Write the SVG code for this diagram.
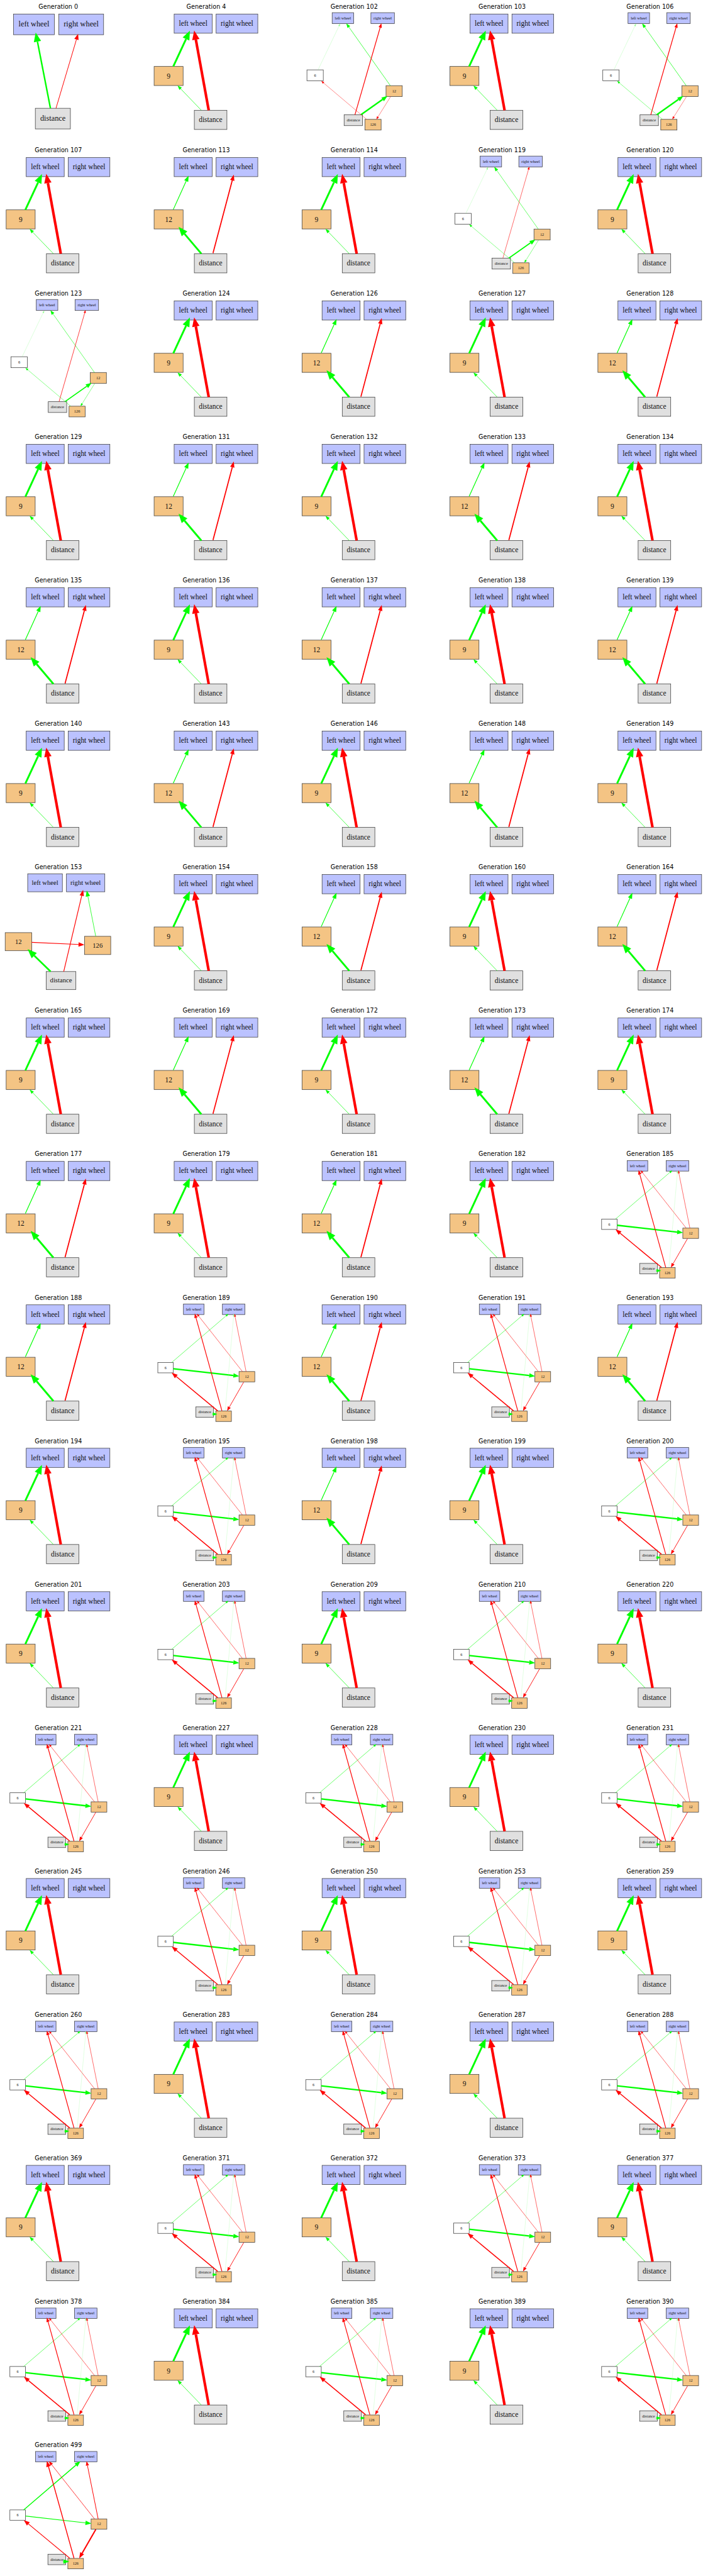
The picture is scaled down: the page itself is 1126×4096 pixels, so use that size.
<svg xmlns="http://www.w3.org/2000/svg" xmlns:xlink="http://www.w3.org/1999/xlink" width="1126" height="4096" viewBox="0 0 1126 4096">
<style>
text{font-family:"Liberation Serif","Times New Roman",serif;text-anchor:middle;fill:#111}
.t{font-family:"DejaVu Sans",sans-serif;font-size:16.4px;fill:#000}
.A g text{font-size:21px}.B g text{font-size:19.5px}.D g text{font-size:11px}.F g text{font-size:18.2px}.G g text{font-size:10.5px}
rect{stroke:#3c3c3c;stroke-width:1.3}
.bg{fill:#fff;stroke:none}
.w{fill:#bbc2ff}.o{fill:#f4c484}.g{fill:#e0e0e0}.h{fill:#fff}
.gr{stroke:#0f0;fill:none}.rd{stroke:#f00;fill:none}.lg{stroke:#9f9;fill:none}
</style>
<defs>
<marker id="g1" markerUnits="userSpaceOnUse" orient="auto" overflow="visible"><path d="M0,-3L8,0L0,3z" fill="#0f0"/></marker>
<marker id="g2" markerUnits="userSpaceOnUse" orient="auto" overflow="visible"><path d="M0,-4.5L12,0L0,4.5z" fill="#0f0"/></marker>
<marker id="g3" markerUnits="userSpaceOnUse" orient="auto" overflow="visible"><path d="M0,-6L16,0L0,6z" fill="#0f0"/></marker>
<marker id="g4" markerUnits="userSpaceOnUse" orient="auto" overflow="visible"><path d="M0,-10L25,0L0,10z" fill="#0f0"/></marker>
<marker id="r1" markerUnits="userSpaceOnUse" orient="auto" overflow="visible"><path d="M0,-3L8,0L0,3z" fill="#f00"/></marker>
<marker id="r2" markerUnits="userSpaceOnUse" orient="auto" overflow="visible"><path d="M0,-4.5L12,0L0,4.5z" fill="#f00"/></marker>
<marker id="r3" markerUnits="userSpaceOnUse" orient="auto" overflow="visible"><path d="M0,-6L16,0L0,6z" fill="#f00"/></marker>
<marker id="r4" markerUnits="userSpaceOnUse" orient="auto" overflow="visible"><path d="M0,-10L25,0L0,10z" fill="#f00"/></marker>
<marker id="m0" markerUnits="userSpaceOnUse" orient="auto" overflow="visible"><path d="M0,-2.5L7,0L0,2.5z" fill="#9f9"/></marker>
<rect id="Aw1" class="w" x="-121.3" y="20" width="110.6" height="56"/>
<rect id="Aw2" class="w" x="1.3" y="20" width="121.4" height="56"/>
<rect id="Ad" class="g" x="-62.3" y="275.3" width="95" height="56"/>
<g id="Ae"><path class="gr" stroke-width="4" d="M-21.3,275.3L-56.5,94.8" marker-end="url(#g4)"/><path class="rd" stroke-width="1.7" d="M-6.3,275.3L49.1,89" marker-end="url(#r3)"/></g>
<rect id="Bw1" class="w" x="-87" y="20" width="103" height="52"/>
<rect id="Bw2" class="w" x="26.7" y="20" width="113" height="52"/>
<rect id="Bo" class="o" x="-141.3" y="162" width="78.6" height="51.7"/>
<rect id="Bd" class="g" x="-32.3" y="280.7" width="88.3" height="52"/>
<g id="Be"><path class="gr" stroke-width="5" d="M-89.3,162L-54.8,87.7" marker-end="url(#g4)"/><path class="gr" stroke-width="1.2" d="M-13.3,280.7L-69.4,222.4" marker-end="url(#g2)"/><path class="rd" stroke-width="7" d="M6.7,280.7L-28.2,89.3" marker-end="url(#r4)"/></g>
<g id="Ce"><path class="gr" stroke-width="2" d="M-89.3,161L-54.3,83.9" marker-end="url(#g3)"/><path class="gr" stroke-width="5" d="M-13.3,280.7L-58.8,227.1" marker-end="url(#g4)"/><path class="rd" stroke-width="3" d="M18.3,279.3L70.5,82.1" marker-end="url(#r3)"/></g>
<rect id="Dw1" class="w" x="-59.7" y="16.3" width="58.4" height="29.7"/>
<rect id="Dw2" class="w" x="45.3" y="16.3" width="63.7" height="29.7"/>
<rect id="D6" class="h" x="-128" y="171.3" width="44.3" height="29.7"/>
<rect id="D12" class="o" x="86.3" y="214" width="44" height="29.7"/>
<rect id="Dd" class="g" x="-27.3" y="293" width="50" height="29.3"/>
<rect id="D126" class="o" x="29" y="305.3" width="44" height="29"/>
<rect id="Fw1" class="w" x="-83" y="18" width="94" height="48.7"/>
<rect id="Fw2" class="w" x="22" y="18" width="104" height="48.7"/>
<rect id="F12" class="o" x="-144" y="177.3" width="72" height="49"/>
<rect id="F126" class="o" x="71" y="187.3" width="71" height="49.4"/>
<rect id="Fd" class="g" x="-33" y="282.7" width="80.6" height="48.6"/>
<rect id="Gw1" class="w" x="-61.8" y="18" width="55.6" height="28.3"/>
<rect id="Gw2" class="w" x="43.8" y="18" width="61" height="28.3"/>
<rect id="G6" class="h" x="-131.2" y="176.3" width="42" height="28"/>
<rect id="G12" class="o" x="88.8" y="200.7" width="42.7" height="28"/>
<rect id="Gd" class="g" x="-28.2" y="296.3" width="48" height="28.4"/>
<rect id="G126" class="o" x="25.8" y="307.7" width="42.4" height="28.3"/>
<g id="Ga"><path class="gr" stroke-width="1" d="M-94,176.5L53.9,49.7" marker-end="url(#g1)"/><path class="gr" stroke-width="4" d="M-89.2,193L73.6,211.4" marker-end="url(#g3)"/><path class="rd" stroke-width="1" d="M98.3,201L-20.5,50.6" marker-end="url(#r1)"/><path class="rd" stroke-width="1" d="M108,201L78.1,52.1" marker-end="url(#r1)"/><path class="rd" stroke-width="2" d="M42.5,307.2L-27.8,55.1" marker-end="url(#r2)"/><path class="rd" stroke-width="2.5" d="M31,307.2L-81.2,214.2" marker-end="url(#r3)"/><path class="rd" stroke-width="1.5" d="M101.5,229.2L62.5,297.1" marker-end="url(#r2)"/><path class="lg" stroke-width=".5" d="M51.3,306.7L74.1,51.5" marker-end="url(#m0)"/><path class="gr" stroke-width="1" d="M16,316L17.8,316" marker-end="url(#g2)"/></g>
</defs>
<rect class="bg" x="0" y="0" width="1126" height="4096"/>
<g transform="scale(0.587)">

<g id="p0" class="A" transform="translate(158,18)"><text class="t" y="6">Generation 0</text><g id="p0a"><use href="#Aw1"/><text x="-66" y="53">left wheel</text></g><g id="p0b"><use href="#Aw2"/><text x="62" y="53">right wheel</text></g><g id="p0d"><use href="#Ad"/><text x="-14.8" y="309">distance</text></g><g id="p0e"><use href="#Ae"/></g></g>
<g id="p1" class="B" transform="translate(558.8,18)"><text class="t" y="6">Generation 4</text><g id="p1a"><use href="#Bw1"/><text x="-35.5" y="52">left wheel</text></g><g id="p1b"><use href="#Bw2"/><text x="83.2" y="52">right wheel</text></g><g id="p1c"><use href="#Bo"/><text x="-102" y="194.5">9</text></g><g id="p1d"><use href="#Bd"/><text x="11.8" y="313">distance</text></g><g id="p1e"><use href="#Be"/></g></g>
<g id="p2" class="D" transform="translate(959.6,18)"><text class="t" y="6">Generation 102</text><g id="p2a"><use href="#Dw1"/><text x="-30.5" y="34.7">left wheel</text></g><g id="p2b"><use href="#Dw2"/><text x="77.2" y="34.7">right wheel</text></g><g id="p2c"><use href="#D6"/><text x="-105.9" y="189.7">6</text></g><g id="p2f"><use href="#D12"/><text x="108.3" y="232.3">12</text></g><g id="p2d"><use href="#Dd"/><text x="-2.3" y="311.2">distance</text></g><g id="p2g"><use href="#D126"/><text x="51" y="323.3">126</text></g><g id="p2e"><path class="lg" stroke-width=".6" d="M-98,171.3L-41,52.3" marker-end="url(#m0)"/><path class="gr" stroke-width="1.2" d="M98,214L-14.4,55.3" marker-end="url(#g2)"/><path class="rd" stroke-width="2" d="M2,293L70.4,56.5" marker-end="url(#r2)"/><path class="gr" stroke-width="4" d="M18.7,292.5L77.2,251.2" marker-end="url(#g3)"/><path class="rd" stroke-width=".8" d="M33.7,305.3L-82.9,206.7" marker-end="url(#r1)"/><path class="rd" stroke-width=".8" d="M98.7,243.7L64.5,298.5" marker-end="url(#r1)"/></g></g>
<g id="p3" class="B" transform="translate(1360.4,18)"><text class="t" y="6">Generation 103</text><g id="p3a"><use href="#Bw1"/><text x="-35.5" y="52">left wheel</text></g><g id="p3b"><use href="#Bw2"/><text x="83.2" y="52">right wheel</text></g><g id="p3c"><use href="#Bo"/><text x="-102" y="194.5">9</text></g><g id="p3d"><use href="#Bd"/><text x="11.8" y="313">distance</text></g><g id="p3e"><use href="#Be"/></g></g>
<g id="p4" class="D" transform="translate(1761.2,18)"><text class="t" y="6">Generation 106</text><g id="p4a"><use href="#Dw1"/><text x="-30.5" y="34.7">left wheel</text></g><g id="p4b"><use href="#Dw2"/><text x="77.2" y="34.7">right wheel</text></g><g id="p4c"><use href="#D6"/><text x="-105.9" y="189.7">6</text></g><g id="p4f"><use href="#D12"/><text x="108.3" y="232.3">12</text></g><g id="p4d"><use href="#Dd"/><text x="-2.3" y="311.2">distance</text></g><g id="p4g"><use href="#D126"/><text x="51" y="323.3">126</text></g><g id="p4e"><path class="lg" stroke-width=".6" d="M-98,171.3L-41,52.3" marker-end="url(#m0)"/><path class="gr" stroke-width="1.2" d="M98,214L-14.4,55.3" marker-end="url(#g2)"/><path class="rd" stroke-width="2" d="M2,293L70.4,56.5" marker-end="url(#r2)"/><path class="gr" stroke-width="4" d="M18.7,292.5L77.2,251.2" marker-end="url(#g3)"/><path class="gr" stroke-width=".8" d="M33.7,305.3L-82.9,206.7" marker-end="url(#g1)"/><path class="rd" stroke-width=".8" d="M98.7,243.7L64.5,298.5" marker-end="url(#r1)"/></g></g>

<g id="p5" class="B" transform="translate(158,406.5)"><text class="t" y="6">Generation 107</text><g id="p5a"><use href="#Bw1"/><text x="-35.5" y="52">left wheel</text></g><g id="p5b"><use href="#Bw2"/><text x="83.2" y="52">right wheel</text></g><g id="p5c"><use href="#Bo"/><text x="-102" y="194.5">9</text></g><g id="p5d"><use href="#Bd"/><text x="11.8" y="313">distance</text></g><g id="p5e"><use href="#Be"/></g></g>
<g id="p6" class="B" transform="translate(558.8,406.5)"><text class="t" y="6">Generation 113</text><g id="p6a"><use href="#Bw1"/><text x="-35.5" y="52">left wheel</text></g><g id="p6b"><use href="#Bw2"/><text x="83.2" y="52">right wheel</text></g><g id="p6c"><use href="#Bo"/><text x="-102" y="194.5">12</text></g><g id="p6d"><use href="#Bd"/><text x="11.8" y="313">distance</text></g><g id="p6e"><use href="#Ce"/></g></g>
<g id="p7" class="B" transform="translate(959.6,406.5)"><text class="t" y="6">Generation 114</text><g id="p7a"><use href="#Bw1"/><text x="-35.5" y="52">left wheel</text></g><g id="p7b"><use href="#Bw2"/><text x="83.2" y="52">right wheel</text></g><g id="p7c"><use href="#Bo"/><text x="-102" y="194.5">9</text></g><g id="p7d"><use href="#Bd"/><text x="11.8" y="313">distance</text></g><g id="p7e"><use href="#Be"/></g></g>
<g id="p8" class="D" transform="translate(1360.4,406.5)"><text class="t" y="6">Generation 119</text><g id="p8a"><use href="#Dw1"/><text x="-30.5" y="34.7">left wheel</text></g><g id="p8b"><use href="#Dw2"/><text x="77.2" y="34.7">right wheel</text></g><g id="p8c"><use href="#D6"/><text x="-105.9" y="189.7">6</text></g><g id="p8f"><use href="#D12"/><text x="108.3" y="232.3">12</text></g><g id="p8d"><use href="#Dd"/><text x="-2.3" y="311.2">distance</text></g><g id="p8g"><use href="#D126"/><text x="51" y="323.3">126</text></g><g id="p8e"><path class="lg" stroke-width=".6" d="M-98,171.3L-41,52.3" marker-end="url(#m0)"/><path class="gr" stroke-width="1" d="M98,214L-14.4,55.3" marker-end="url(#g2)"/><path class="rd" stroke-width="1" d="M2,293L71.5,52.7" marker-end="url(#r1)"/><path class="gr" stroke-width="3" d="M18.7,292.5L77.2,251.2" marker-end="url(#g3)"/><path class="gr" stroke-width=".8" d="M33.7,305.3L-82.9,206.7" marker-end="url(#g1)"/><path class="gr" stroke-width=".8" d="M98.7,243.7L64.5,298.5" marker-end="url(#g1)"/></g></g>
<g id="p9" class="B" transform="translate(1761.2,406.5)"><text class="t" y="6">Generation 120</text><g id="p9a"><use href="#Bw1"/><text x="-35.5" y="52">left wheel</text></g><g id="p9b"><use href="#Bw2"/><text x="83.2" y="52">right wheel</text></g><g id="p9c"><use href="#Bo"/><text x="-102" y="194.5">9</text></g><g id="p9d"><use href="#Bd"/><text x="11.8" y="313">distance</text></g><g id="p9e"><use href="#Be"/></g></g>

<g id="p10" class="D" transform="translate(158,795)"><text class="t" y="6">Generation 123</text><g id="p10a"><use href="#Dw1"/><text x="-30.5" y="34.7">left wheel</text></g><g id="p10b"><use href="#Dw2"/><text x="77.2" y="34.7">right wheel</text></g><g id="p10c"><use href="#D6"/><text x="-105.9" y="189.7">6</text></g><g id="p10f"><use href="#D12"/><text x="108.3" y="232.3">12</text></g><g id="p10d"><use href="#Dd"/><text x="-2.3" y="311.2">distance</text></g><g id="p10g"><use href="#D126"/><text x="51" y="323.3">126</text></g><g id="p10e"><path class="lg" stroke-width=".6" d="M-98,171.3L-41,52.3" marker-end="url(#m0)"/><path class="gr" stroke-width="1" d="M98,214L-14.4,55.3" marker-end="url(#g2)"/><path class="rd" stroke-width="1.3" d="M2,293L71.5,52.7" marker-end="url(#r1)"/><path class="gr" stroke-width="3" d="M18.7,292.5L77.2,251.2" marker-end="url(#g3)"/><path class="gr" stroke-width=".8" d="M33.7,305.3L-82.9,206.7" marker-end="url(#g1)"/><path class="gr" stroke-width=".8" d="M98.7,243.7L64.5,298.5" marker-end="url(#g1)"/></g></g>
<g id="p11" class="B" transform="translate(558.8,795)"><text class="t" y="6">Generation 124</text><g id="p11a"><use href="#Bw1"/><text x="-35.5" y="52">left wheel</text></g><g id="p11b"><use href="#Bw2"/><text x="83.2" y="52">right wheel</text></g><g id="p11c"><use href="#Bo"/><text x="-102" y="194.5">9</text></g><g id="p11d"><use href="#Bd"/><text x="11.8" y="313">distance</text></g><g id="p11e"><use href="#Be"/></g></g>
<g id="p12" class="B" transform="translate(959.6,795)"><text class="t" y="6">Generation 126</text><g id="p12a"><use href="#Bw1"/><text x="-35.5" y="52">left wheel</text></g><g id="p12b"><use href="#Bw2"/><text x="83.2" y="52">right wheel</text></g><g id="p12c"><use href="#Bo"/><text x="-102" y="194.5">12</text></g><g id="p12d"><use href="#Bd"/><text x="11.8" y="313">distance</text></g><g id="p12e"><use href="#Ce"/></g></g>
<g id="p13" class="B" transform="translate(1360.4,795)"><text class="t" y="6">Generation 127</text><g id="p13a"><use href="#Bw1"/><text x="-35.5" y="52">left wheel</text></g><g id="p13b"><use href="#Bw2"/><text x="83.2" y="52">right wheel</text></g><g id="p13c"><use href="#Bo"/><text x="-102" y="194.5">9</text></g><g id="p13d"><use href="#Bd"/><text x="11.8" y="313">distance</text></g><g id="p13e"><use href="#Be"/></g></g>
<g id="p14" class="B" transform="translate(1761.2,795)"><text class="t" y="6">Generation 128</text><g id="p14a"><use href="#Bw1"/><text x="-35.5" y="52">left wheel</text></g><g id="p14b"><use href="#Bw2"/><text x="83.2" y="52">right wheel</text></g><g id="p14c"><use href="#Bo"/><text x="-102" y="194.5">12</text></g><g id="p14d"><use href="#Bd"/><text x="11.8" y="313">distance</text></g><g id="p14e"><use href="#Ce"/></g></g>

<g id="p15" class="B" transform="translate(158,1183.5)"><text class="t" y="6">Generation 129</text><g id="p15a"><use href="#Bw1"/><text x="-35.5" y="52">left wheel</text></g><g id="p15b"><use href="#Bw2"/><text x="83.2" y="52">right wheel</text></g><g id="p15c"><use href="#Bo"/><text x="-102" y="194.5">9</text></g><g id="p15d"><use href="#Bd"/><text x="11.8" y="313">distance</text></g><g id="p15e"><use href="#Be"/></g></g>
<g id="p16" class="B" transform="translate(558.8,1183.5)"><text class="t" y="6">Generation 131</text><g id="p16a"><use href="#Bw1"/><text x="-35.5" y="52">left wheel</text></g><g id="p16b"><use href="#Bw2"/><text x="83.2" y="52">right wheel</text></g><g id="p16c"><use href="#Bo"/><text x="-102" y="194.5">12</text></g><g id="p16d"><use href="#Bd"/><text x="11.8" y="313">distance</text></g><g id="p16e"><use href="#Ce"/></g></g>
<g id="p17" class="B" transform="translate(959.6,1183.5)"><text class="t" y="6">Generation 132</text><g id="p17a"><use href="#Bw1"/><text x="-35.5" y="52">left wheel</text></g><g id="p17b"><use href="#Bw2"/><text x="83.2" y="52">right wheel</text></g><g id="p17c"><use href="#Bo"/><text x="-102" y="194.5">9</text></g><g id="p17d"><use href="#Bd"/><text x="11.8" y="313">distance</text></g><g id="p17e"><use href="#Be"/></g></g>
<g id="p18" class="B" transform="translate(1360.4,1183.5)"><text class="t" y="6">Generation 133</text><g id="p18a"><use href="#Bw1"/><text x="-35.5" y="52">left wheel</text></g><g id="p18b"><use href="#Bw2"/><text x="83.2" y="52">right wheel</text></g><g id="p18c"><use href="#Bo"/><text x="-102" y="194.5">12</text></g><g id="p18d"><use href="#Bd"/><text x="11.8" y="313">distance</text></g><g id="p18e"><use href="#Ce"/></g></g>
<g id="p19" class="B" transform="translate(1761.2,1183.5)"><text class="t" y="6">Generation 134</text><g id="p19a"><use href="#Bw1"/><text x="-35.5" y="52">left wheel</text></g><g id="p19b"><use href="#Bw2"/><text x="83.2" y="52">right wheel</text></g><g id="p19c"><use href="#Bo"/><text x="-102" y="194.5">9</text></g><g id="p19d"><use href="#Bd"/><text x="11.8" y="313">distance</text></g><g id="p19e"><use href="#Be"/></g></g>

<g id="p20" class="B" transform="translate(158,1572)"><text class="t" y="6">Generation 135</text><g id="p20a"><use href="#Bw1"/><text x="-35.5" y="52">left wheel</text></g><g id="p20b"><use href="#Bw2"/><text x="83.2" y="52">right wheel</text></g><g id="p20c"><use href="#Bo"/><text x="-102" y="194.5">12</text></g><g id="p20d"><use href="#Bd"/><text x="11.8" y="313">distance</text></g><g id="p20e"><use href="#Ce"/></g></g>
<g id="p21" class="B" transform="translate(558.8,1572)"><text class="t" y="6">Generation 136</text><g id="p21a"><use href="#Bw1"/><text x="-35.5" y="52">left wheel</text></g><g id="p21b"><use href="#Bw2"/><text x="83.2" y="52">right wheel</text></g><g id="p21c"><use href="#Bo"/><text x="-102" y="194.5">9</text></g><g id="p21d"><use href="#Bd"/><text x="11.8" y="313">distance</text></g><g id="p21e"><use href="#Be"/></g></g>
<g id="p22" class="B" transform="translate(959.6,1572)"><text class="t" y="6">Generation 137</text><g id="p22a"><use href="#Bw1"/><text x="-35.5" y="52">left wheel</text></g><g id="p22b"><use href="#Bw2"/><text x="83.2" y="52">right wheel</text></g><g id="p22c"><use href="#Bo"/><text x="-102" y="194.5">12</text></g><g id="p22d"><use href="#Bd"/><text x="11.8" y="313">distance</text></g><g id="p22e"><use href="#Ce"/></g></g>
<g id="p23" class="B" transform="translate(1360.4,1572)"><text class="t" y="6">Generation 138</text><g id="p23a"><use href="#Bw1"/><text x="-35.5" y="52">left wheel</text></g><g id="p23b"><use href="#Bw2"/><text x="83.2" y="52">right wheel</text></g><g id="p23c"><use href="#Bo"/><text x="-102" y="194.5">9</text></g><g id="p23d"><use href="#Bd"/><text x="11.8" y="313">distance</text></g><g id="p23e"><use href="#Be"/></g></g>
<g id="p24" class="B" transform="translate(1761.2,1572)"><text class="t" y="6">Generation 139</text><g id="p24a"><use href="#Bw1"/><text x="-35.5" y="52">left wheel</text></g><g id="p24b"><use href="#Bw2"/><text x="83.2" y="52">right wheel</text></g><g id="p24c"><use href="#Bo"/><text x="-102" y="194.5">12</text></g><g id="p24d"><use href="#Bd"/><text x="11.8" y="313">distance</text></g><g id="p24e"><use href="#Ce"/></g></g>

<g id="p25" class="B" transform="translate(158,1960.5)"><text class="t" y="6">Generation 140</text><g id="p25a"><use href="#Bw1"/><text x="-35.5" y="52">left wheel</text></g><g id="p25b"><use href="#Bw2"/><text x="83.2" y="52">right wheel</text></g><g id="p25c"><use href="#Bo"/><text x="-102" y="194.5">9</text></g><g id="p25d"><use href="#Bd"/><text x="11.8" y="313">distance</text></g><g id="p25e"><use href="#Be"/></g></g>
<g id="p26" class="B" transform="translate(558.8,1960.5)"><text class="t" y="6">Generation 143</text><g id="p26a"><use href="#Bw1"/><text x="-35.5" y="52">left wheel</text></g><g id="p26b"><use href="#Bw2"/><text x="83.2" y="52">right wheel</text></g><g id="p26c"><use href="#Bo"/><text x="-102" y="194.5">12</text></g><g id="p26d"><use href="#Bd"/><text x="11.8" y="313">distance</text></g><g id="p26e"><use href="#Ce"/></g></g>
<g id="p27" class="B" transform="translate(959.6,1960.5)"><text class="t" y="6">Generation 146</text><g id="p27a"><use href="#Bw1"/><text x="-35.5" y="52">left wheel</text></g><g id="p27b"><use href="#Bw2"/><text x="83.2" y="52">right wheel</text></g><g id="p27c"><use href="#Bo"/><text x="-102" y="194.5">9</text></g><g id="p27d"><use href="#Bd"/><text x="11.8" y="313">distance</text></g><g id="p27e"><use href="#Be"/></g></g>
<g id="p28" class="B" transform="translate(1360.4,1960.5)"><text class="t" y="6">Generation 148</text><g id="p28a"><use href="#Bw1"/><text x="-35.5" y="52">left wheel</text></g><g id="p28b"><use href="#Bw2"/><text x="83.2" y="52">right wheel</text></g><g id="p28c"><use href="#Bo"/><text x="-102" y="194.5">12</text></g><g id="p28d"><use href="#Bd"/><text x="11.8" y="313">distance</text></g><g id="p28e"><use href="#Ce"/></g></g>
<g id="p29" class="B" transform="translate(1761.2,1960.5)"><text class="t" y="6">Generation 149</text><g id="p29a"><use href="#Bw1"/><text x="-35.5" y="52">left wheel</text></g><g id="p29b"><use href="#Bw2"/><text x="83.2" y="52">right wheel</text></g><g id="p29c"><use href="#Bo"/><text x="-102" y="194.5">9</text></g><g id="p29d"><use href="#Bd"/><text x="11.8" y="313">distance</text></g><g id="p29e"><use href="#Be"/></g></g>

<g id="p30" class="F" transform="translate(158,2349)"><text class="t" y="6">Generation 153</text><g id="p30a"><use href="#Fw1"/><text x="-36" y="48">left wheel</text></g><g id="p30b"><use href="#Fw2"/><text x="74" y="48">right wheel</text></g><g id="p30f"><use href="#F12"/><text x="-108" y="207.4">12</text></g><g id="p30g"><use href="#F126"/><text x="106.5" y="217.6">126</text></g><g id="p30d"><use href="#Fd"/><text x="7.3" y="312.6">distance</text></g><g id="p30e"><path class="gr" stroke-width="4.5" d="M-20.9,282.7L-65.2,239.7" marker-end="url(#g4)"/><path class="rd" stroke-width="2" d="M-72.2,203.7L54.8,209.3" marker-end="url(#r3)"/><path class="rd" stroke-width="2" d="M14.6,282.7L63.5,77.3" marker-end="url(#r3)"/><path class="gr" stroke-width="1.3" d="M101.4,187.3L80.1,79" marker-end="url(#g3)"/></g></g>
<g id="p31" class="B" transform="translate(558.8,2349)"><text class="t" y="6">Generation 154</text><g id="p31a"><use href="#Bw1"/><text x="-35.5" y="52">left wheel</text></g><g id="p31b"><use href="#Bw2"/><text x="83.2" y="52">right wheel</text></g><g id="p31c"><use href="#Bo"/><text x="-102" y="194.5">9</text></g><g id="p31d"><use href="#Bd"/><text x="11.8" y="313">distance</text></g><g id="p31e"><use href="#Be"/></g></g>
<g id="p32" class="B" transform="translate(959.6,2349)"><text class="t" y="6">Generation 158</text><g id="p32a"><use href="#Bw1"/><text x="-35.5" y="52">left wheel</text></g><g id="p32b"><use href="#Bw2"/><text x="83.2" y="52">right wheel</text></g><g id="p32c"><use href="#Bo"/><text x="-102" y="194.5">12</text></g><g id="p32d"><use href="#Bd"/><text x="11.8" y="313">distance</text></g><g id="p32e"><use href="#Ce"/></g></g>
<g id="p33" class="B" transform="translate(1360.4,2349)"><text class="t" y="6">Generation 160</text><g id="p33a"><use href="#Bw1"/><text x="-35.5" y="52">left wheel</text></g><g id="p33b"><use href="#Bw2"/><text x="83.2" y="52">right wheel</text></g><g id="p33c"><use href="#Bo"/><text x="-102" y="194.5">9</text></g><g id="p33d"><use href="#Bd"/><text x="11.8" y="313">distance</text></g><g id="p33e"><use href="#Be"/></g></g>
<g id="p34" class="B" transform="translate(1761.2,2349)"><text class="t" y="6">Generation 164</text><g id="p34a"><use href="#Bw1"/><text x="-35.5" y="52">left wheel</text></g><g id="p34b"><use href="#Bw2"/><text x="83.2" y="52">right wheel</text></g><g id="p34c"><use href="#Bo"/><text x="-102" y="194.5">12</text></g><g id="p34d"><use href="#Bd"/><text x="11.8" y="313">distance</text></g><g id="p34e"><use href="#Ce"/></g></g>

<g id="p35" class="B" transform="translate(158,2737.5)"><text class="t" y="6">Generation 165</text><g id="p35a"><use href="#Bw1"/><text x="-35.5" y="52">left wheel</text></g><g id="p35b"><use href="#Bw2"/><text x="83.2" y="52">right wheel</text></g><g id="p35c"><use href="#Bo"/><text x="-102" y="194.5">9</text></g><g id="p35d"><use href="#Bd"/><text x="11.8" y="313">distance</text></g><g id="p35e"><use href="#Be"/></g></g>
<g id="p36" class="B" transform="translate(558.8,2737.5)"><text class="t" y="6">Generation 169</text><g id="p36a"><use href="#Bw1"/><text x="-35.5" y="52">left wheel</text></g><g id="p36b"><use href="#Bw2"/><text x="83.2" y="52">right wheel</text></g><g id="p36c"><use href="#Bo"/><text x="-102" y="194.5">12</text></g><g id="p36d"><use href="#Bd"/><text x="11.8" y="313">distance</text></g><g id="p36e"><use href="#Ce"/></g></g>
<g id="p37" class="B" transform="translate(959.6,2737.5)"><text class="t" y="6">Generation 172</text><g id="p37a"><use href="#Bw1"/><text x="-35.5" y="52">left wheel</text></g><g id="p37b"><use href="#Bw2"/><text x="83.2" y="52">right wheel</text></g><g id="p37c"><use href="#Bo"/><text x="-102" y="194.5">9</text></g><g id="p37d"><use href="#Bd"/><text x="11.8" y="313">distance</text></g><g id="p37e"><use href="#Be"/></g></g>
<g id="p38" class="B" transform="translate(1360.4,2737.5)"><text class="t" y="6">Generation 173</text><g id="p38a"><use href="#Bw1"/><text x="-35.5" y="52">left wheel</text></g><g id="p38b"><use href="#Bw2"/><text x="83.2" y="52">right wheel</text></g><g id="p38c"><use href="#Bo"/><text x="-102" y="194.5">12</text></g><g id="p38d"><use href="#Bd"/><text x="11.8" y="313">distance</text></g><g id="p38e"><use href="#Ce"/></g></g>
<g id="p39" class="B" transform="translate(1761.2,2737.5)"><text class="t" y="6">Generation 174</text><g id="p39a"><use href="#Bw1"/><text x="-35.5" y="52">left wheel</text></g><g id="p39b"><use href="#Bw2"/><text x="83.2" y="52">right wheel</text></g><g id="p39c"><use href="#Bo"/><text x="-102" y="194.5">9</text></g><g id="p39d"><use href="#Bd"/><text x="11.8" y="313">distance</text></g><g id="p39e"><use href="#Be"/></g></g>

<g id="p40" class="B" transform="translate(158,3126)"><text class="t" y="6">Generation 177</text><g id="p40a"><use href="#Bw1"/><text x="-35.5" y="52">left wheel</text></g><g id="p40b"><use href="#Bw2"/><text x="83.2" y="52">right wheel</text></g><g id="p40c"><use href="#Bo"/><text x="-102" y="194.5">12</text></g><g id="p40d"><use href="#Bd"/><text x="11.8" y="313">distance</text></g><g id="p40e"><use href="#Ce"/></g></g>
<g id="p41" class="B" transform="translate(558.8,3126)"><text class="t" y="6">Generation 179</text><g id="p41a"><use href="#Bw1"/><text x="-35.5" y="52">left wheel</text></g><g id="p41b"><use href="#Bw2"/><text x="83.2" y="52">right wheel</text></g><g id="p41c"><use href="#Bo"/><text x="-102" y="194.5">9</text></g><g id="p41d"><use href="#Bd"/><text x="11.8" y="313">distance</text></g><g id="p41e"><use href="#Be"/></g></g>
<g id="p42" class="B" transform="translate(959.6,3126)"><text class="t" y="6">Generation 181</text><g id="p42a"><use href="#Bw1"/><text x="-35.5" y="52">left wheel</text></g><g id="p42b"><use href="#Bw2"/><text x="83.2" y="52">right wheel</text></g><g id="p42c"><use href="#Bo"/><text x="-102" y="194.5">12</text></g><g id="p42d"><use href="#Bd"/><text x="11.8" y="313">distance</text></g><g id="p42e"><use href="#Ce"/></g></g>
<g id="p43" class="B" transform="translate(1360.4,3126)"><text class="t" y="6">Generation 182</text><g id="p43a"><use href="#Bw1"/><text x="-35.5" y="52">left wheel</text></g><g id="p43b"><use href="#Bw2"/><text x="83.2" y="52">right wheel</text></g><g id="p43c"><use href="#Bo"/><text x="-102" y="194.5">9</text></g><g id="p43d"><use href="#Bd"/><text x="11.8" y="313">distance</text></g><g id="p43e"><use href="#Be"/></g></g>
<g id="p44" class="G" transform="translate(1761.2,3126)"><text class="t" y="6">Generation 185</text><g id="p44a"><use href="#Gw1"/><text x="-34" y="35.5">left wheel</text></g><g id="p44b"><use href="#Gw2"/><text x="74.3" y="35.5">right wheel</text></g><g id="p44c"><use href="#G6"/><text x="-110.2" y="193.6">6</text></g><g id="p44f"><use href="#G12"/><text x="110.2" y="218">12</text></g><g id="p44d"><use href="#Gd"/><text x="-4.2" y="313.8">distance</text></g><g id="p44g"><use href="#G126"/><text x="47" y="325.2">126</text></g><g id="p44e"><use href="#Ga"/></g></g>

<g id="p45" class="B" transform="translate(158,3514.5)"><text class="t" y="6">Generation 188</text><g id="p45a"><use href="#Bw1"/><text x="-35.5" y="52">left wheel</text></g><g id="p45b"><use href="#Bw2"/><text x="83.2" y="52">right wheel</text></g><g id="p45c"><use href="#Bo"/><text x="-102" y="194.5">12</text></g><g id="p45d"><use href="#Bd"/><text x="11.8" y="313">distance</text></g><g id="p45e"><use href="#Ce"/></g></g>
<g id="p46" class="G" transform="translate(558.8,3514.5)"><text class="t" y="6">Generation 189</text><g id="p46a"><use href="#Gw1"/><text x="-34" y="35.5">left wheel</text></g><g id="p46b"><use href="#Gw2"/><text x="74.3" y="35.5">right wheel</text></g><g id="p46c"><use href="#G6"/><text x="-110.2" y="193.6">6</text></g><g id="p46f"><use href="#G12"/><text x="110.2" y="218">12</text></g><g id="p46d"><use href="#Gd"/><text x="-4.2" y="313.8">distance</text></g><g id="p46g"><use href="#G126"/><text x="47" y="325.2">126</text></g><g id="p46e"><use href="#Ga"/></g></g>
<g id="p47" class="B" transform="translate(959.6,3514.5)"><text class="t" y="6">Generation 190</text><g id="p47a"><use href="#Bw1"/><text x="-35.5" y="52">left wheel</text></g><g id="p47b"><use href="#Bw2"/><text x="83.2" y="52">right wheel</text></g><g id="p47c"><use href="#Bo"/><text x="-102" y="194.5">12</text></g><g id="p47d"><use href="#Bd"/><text x="11.8" y="313">distance</text></g><g id="p47e"><use href="#Ce"/></g></g>
<g id="p48" class="G" transform="translate(1360.4,3514.5)"><text class="t" y="6">Generation 191</text><g id="p48a"><use href="#Gw1"/><text x="-34" y="35.5">left wheel</text></g><g id="p48b"><use href="#Gw2"/><text x="74.3" y="35.5">right wheel</text></g><g id="p48c"><use href="#G6"/><text x="-110.2" y="193.6">6</text></g><g id="p48f"><use href="#G12"/><text x="110.2" y="218">12</text></g><g id="p48d"><use href="#Gd"/><text x="-4.2" y="313.8">distance</text></g><g id="p48g"><use href="#G126"/><text x="47" y="325.2">126</text></g><g id="p48e"><use href="#Ga"/></g></g>
<g id="p49" class="B" transform="translate(1761.2,3514.5)"><text class="t" y="6">Generation 193</text><g id="p49a"><use href="#Bw1"/><text x="-35.5" y="52">left wheel</text></g><g id="p49b"><use href="#Bw2"/><text x="83.2" y="52">right wheel</text></g><g id="p49c"><use href="#Bo"/><text x="-102" y="194.5">12</text></g><g id="p49d"><use href="#Bd"/><text x="11.8" y="313">distance</text></g><g id="p49e"><use href="#Ce"/></g></g>

<g id="p50" class="B" transform="translate(158,3903)"><text class="t" y="6">Generation 194</text><g id="p50a"><use href="#Bw1"/><text x="-35.5" y="52">left wheel</text></g><g id="p50b"><use href="#Bw2"/><text x="83.2" y="52">right wheel</text></g><g id="p50c"><use href="#Bo"/><text x="-102" y="194.5">9</text></g><g id="p50d"><use href="#Bd"/><text x="11.8" y="313">distance</text></g><g id="p50e"><use href="#Be"/></g></g>
<g id="p51" class="G" transform="translate(558.8,3903)"><text class="t" y="6">Generation 195</text><g id="p51a"><use href="#Gw1"/><text x="-34" y="35.5">left wheel</text></g><g id="p51b"><use href="#Gw2"/><text x="74.3" y="35.5">right wheel</text></g><g id="p51c"><use href="#G6"/><text x="-110.2" y="193.6">6</text></g><g id="p51f"><use href="#G12"/><text x="110.2" y="218">12</text></g><g id="p51d"><use href="#Gd"/><text x="-4.2" y="313.8">distance</text></g><g id="p51g"><use href="#G126"/><text x="47" y="325.2">126</text></g><g id="p51e"><use href="#Ga"/></g></g>
<g id="p52" class="B" transform="translate(959.6,3903)"><text class="t" y="6">Generation 198</text><g id="p52a"><use href="#Bw1"/><text x="-35.5" y="52">left wheel</text></g><g id="p52b"><use href="#Bw2"/><text x="83.2" y="52">right wheel</text></g><g id="p52c"><use href="#Bo"/><text x="-102" y="194.5">12</text></g><g id="p52d"><use href="#Bd"/><text x="11.8" y="313">distance</text></g><g id="p52e"><use href="#Ce"/></g></g>
<g id="p53" class="B" transform="translate(1360.4,3903)"><text class="t" y="6">Generation 199</text><g id="p53a"><use href="#Bw1"/><text x="-35.5" y="52">left wheel</text></g><g id="p53b"><use href="#Bw2"/><text x="83.2" y="52">right wheel</text></g><g id="p53c"><use href="#Bo"/><text x="-102" y="194.5">9</text></g><g id="p53d"><use href="#Bd"/><text x="11.8" y="313">distance</text></g><g id="p53e"><use href="#Be"/></g></g>
<g id="p54" class="G" transform="translate(1761.2,3903)"><text class="t" y="6">Generation 200</text><g id="p54a"><use href="#Gw1"/><text x="-34" y="35.5">left wheel</text></g><g id="p54b"><use href="#Gw2"/><text x="74.3" y="35.5">right wheel</text></g><g id="p54c"><use href="#G6"/><text x="-110.2" y="193.6">6</text></g><g id="p54f"><use href="#G12"/><text x="110.2" y="218">12</text></g><g id="p54d"><use href="#Gd"/><text x="-4.2" y="313.8">distance</text></g><g id="p54g"><use href="#G126"/><text x="47" y="325.2">126</text></g><g id="p54e"><use href="#Ga"/></g></g>

<g id="p55" class="B" transform="translate(158,4291.5)"><text class="t" y="6">Generation 201</text><g id="p55a"><use href="#Bw1"/><text x="-35.5" y="52">left wheel</text></g><g id="p55b"><use href="#Bw2"/><text x="83.2" y="52">right wheel</text></g><g id="p55c"><use href="#Bo"/><text x="-102" y="194.5">9</text></g><g id="p55d"><use href="#Bd"/><text x="11.8" y="313">distance</text></g><g id="p55e"><use href="#Be"/></g></g>
<g id="p56" class="G" transform="translate(558.8,4291.5)"><text class="t" y="6">Generation 203</text><g id="p56a"><use href="#Gw1"/><text x="-34" y="35.5">left wheel</text></g><g id="p56b"><use href="#Gw2"/><text x="74.3" y="35.5">right wheel</text></g><g id="p56c"><use href="#G6"/><text x="-110.2" y="193.6">6</text></g><g id="p56f"><use href="#G12"/><text x="110.2" y="218">12</text></g><g id="p56d"><use href="#Gd"/><text x="-4.2" y="313.8">distance</text></g><g id="p56g"><use href="#G126"/><text x="47" y="325.2">126</text></g><g id="p56e"><use href="#Ga"/></g></g>
<g id="p57" class="B" transform="translate(959.6,4291.5)"><text class="t" y="6">Generation 209</text><g id="p57a"><use href="#Bw1"/><text x="-35.5" y="52">left wheel</text></g><g id="p57b"><use href="#Bw2"/><text x="83.2" y="52">right wheel</text></g><g id="p57c"><use href="#Bo"/><text x="-102" y="194.5">9</text></g><g id="p57d"><use href="#Bd"/><text x="11.8" y="313">distance</text></g><g id="p57e"><use href="#Be"/></g></g>
<g id="p58" class="G" transform="translate(1360.4,4291.5)"><text class="t" y="6">Generation 210</text><g id="p58a"><use href="#Gw1"/><text x="-34" y="35.5">left wheel</text></g><g id="p58b"><use href="#Gw2"/><text x="74.3" y="35.5">right wheel</text></g><g id="p58c"><use href="#G6"/><text x="-110.2" y="193.6">6</text></g><g id="p58f"><use href="#G12"/><text x="110.2" y="218">12</text></g><g id="p58d"><use href="#Gd"/><text x="-4.2" y="313.8">distance</text></g><g id="p58g"><use href="#G126"/><text x="47" y="325.2">126</text></g><g id="p58e"><use href="#Ga"/></g></g>
<g id="p59" class="B" transform="translate(1761.2,4291.5)"><text class="t" y="6">Generation 220</text><g id="p59a"><use href="#Bw1"/><text x="-35.5" y="52">left wheel</text></g><g id="p59b"><use href="#Bw2"/><text x="83.2" y="52">right wheel</text></g><g id="p59c"><use href="#Bo"/><text x="-102" y="194.5">9</text></g><g id="p59d"><use href="#Bd"/><text x="11.8" y="313">distance</text></g><g id="p59e"><use href="#Be"/></g></g>

<g id="p60" class="G" transform="translate(158,4680)"><text class="t" y="6">Generation 221</text><g id="p60a"><use href="#Gw1"/><text x="-34" y="35.5">left wheel</text></g><g id="p60b"><use href="#Gw2"/><text x="74.3" y="35.5">right wheel</text></g><g id="p60c"><use href="#G6"/><text x="-110.2" y="193.6">6</text></g><g id="p60f"><use href="#G12"/><text x="110.2" y="218">12</text></g><g id="p60d"><use href="#Gd"/><text x="-4.2" y="313.8">distance</text></g><g id="p60g"><use href="#G126"/><text x="47" y="325.2">126</text></g><g id="p60e"><use href="#Ga"/></g></g>
<g id="p61" class="B" transform="translate(558.8,4680)"><text class="t" y="6">Generation 227</text><g id="p61a"><use href="#Bw1"/><text x="-35.5" y="52">left wheel</text></g><g id="p61b"><use href="#Bw2"/><text x="83.2" y="52">right wheel</text></g><g id="p61c"><use href="#Bo"/><text x="-102" y="194.5">9</text></g><g id="p61d"><use href="#Bd"/><text x="11.8" y="313">distance</text></g><g id="p61e"><use href="#Be"/></g></g>
<g id="p62" class="G" transform="translate(959.6,4680)"><text class="t" y="6">Generation 228</text><g id="p62a"><use href="#Gw1"/><text x="-34" y="35.5">left wheel</text></g><g id="p62b"><use href="#Gw2"/><text x="74.3" y="35.5">right wheel</text></g><g id="p62c"><use href="#G6"/><text x="-110.2" y="193.6">6</text></g><g id="p62f"><use href="#G12"/><text x="110.2" y="218">12</text></g><g id="p62d"><use href="#Gd"/><text x="-4.2" y="313.8">distance</text></g><g id="p62g"><use href="#G126"/><text x="47" y="325.2">126</text></g><g id="p62e"><use href="#Ga"/></g></g>
<g id="p63" class="B" transform="translate(1360.4,4680)"><text class="t" y="6">Generation 230</text><g id="p63a"><use href="#Bw1"/><text x="-35.5" y="52">left wheel</text></g><g id="p63b"><use href="#Bw2"/><text x="83.2" y="52">right wheel</text></g><g id="p63c"><use href="#Bo"/><text x="-102" y="194.5">9</text></g><g id="p63d"><use href="#Bd"/><text x="11.8" y="313">distance</text></g><g id="p63e"><use href="#Be"/></g></g>
<g id="p64" class="G" transform="translate(1761.2,4680)"><text class="t" y="6">Generation 231</text><g id="p64a"><use href="#Gw1"/><text x="-34" y="35.5">left wheel</text></g><g id="p64b"><use href="#Gw2"/><text x="74.3" y="35.5">right wheel</text></g><g id="p64c"><use href="#G6"/><text x="-110.2" y="193.6">6</text></g><g id="p64f"><use href="#G12"/><text x="110.2" y="218">12</text></g><g id="p64d"><use href="#Gd"/><text x="-4.2" y="313.8">distance</text></g><g id="p64g"><use href="#G126"/><text x="47" y="325.2">126</text></g><g id="p64e"><use href="#Ga"/></g></g>

<g id="p65" class="B" transform="translate(158,5068.5)"><text class="t" y="6">Generation 245</text><g id="p65a"><use href="#Bw1"/><text x="-35.5" y="52">left wheel</text></g><g id="p65b"><use href="#Bw2"/><text x="83.2" y="52">right wheel</text></g><g id="p65c"><use href="#Bo"/><text x="-102" y="194.5">9</text></g><g id="p65d"><use href="#Bd"/><text x="11.8" y="313">distance</text></g><g id="p65e"><use href="#Be"/></g></g>
<g id="p66" class="G" transform="translate(558.8,5068.5)"><text class="t" y="6">Generation 246</text><g id="p66a"><use href="#Gw1"/><text x="-34" y="35.5">left wheel</text></g><g id="p66b"><use href="#Gw2"/><text x="74.3" y="35.5">right wheel</text></g><g id="p66c"><use href="#G6"/><text x="-110.2" y="193.6">6</text></g><g id="p66f"><use href="#G12"/><text x="110.2" y="218">12</text></g><g id="p66d"><use href="#Gd"/><text x="-4.2" y="313.8">distance</text></g><g id="p66g"><use href="#G126"/><text x="47" y="325.2">126</text></g><g id="p66e"><use href="#Ga"/></g></g>
<g id="p67" class="B" transform="translate(959.6,5068.5)"><text class="t" y="6">Generation 250</text><g id="p67a"><use href="#Bw1"/><text x="-35.5" y="52">left wheel</text></g><g id="p67b"><use href="#Bw2"/><text x="83.2" y="52">right wheel</text></g><g id="p67c"><use href="#Bo"/><text x="-102" y="194.5">9</text></g><g id="p67d"><use href="#Bd"/><text x="11.8" y="313">distance</text></g><g id="p67e"><use href="#Be"/></g></g>
<g id="p68" class="G" transform="translate(1360.4,5068.5)"><text class="t" y="6">Generation 253</text><g id="p68a"><use href="#Gw1"/><text x="-34" y="35.5">left wheel</text></g><g id="p68b"><use href="#Gw2"/><text x="74.3" y="35.5">right wheel</text></g><g id="p68c"><use href="#G6"/><text x="-110.2" y="193.6">6</text></g><g id="p68f"><use href="#G12"/><text x="110.2" y="218">12</text></g><g id="p68d"><use href="#Gd"/><text x="-4.2" y="313.8">distance</text></g><g id="p68g"><use href="#G126"/><text x="47" y="325.2">126</text></g><g id="p68e"><use href="#Ga"/></g></g>
<g id="p69" class="B" transform="translate(1761.2,5068.5)"><text class="t" y="6">Generation 259</text><g id="p69a"><use href="#Bw1"/><text x="-35.5" y="52">left wheel</text></g><g id="p69b"><use href="#Bw2"/><text x="83.2" y="52">right wheel</text></g><g id="p69c"><use href="#Bo"/><text x="-102" y="194.5">9</text></g><g id="p69d"><use href="#Bd"/><text x="11.8" y="313">distance</text></g><g id="p69e"><use href="#Be"/></g></g>

<g id="p70" class="G" transform="translate(158,5457)"><text class="t" y="6">Generation 260</text><g id="p70a"><use href="#Gw1"/><text x="-34" y="35.5">left wheel</text></g><g id="p70b"><use href="#Gw2"/><text x="74.3" y="35.5">right wheel</text></g><g id="p70c"><use href="#G6"/><text x="-110.2" y="193.6">6</text></g><g id="p70f"><use href="#G12"/><text x="110.2" y="218">12</text></g><g id="p70d"><use href="#Gd"/><text x="-4.2" y="313.8">distance</text></g><g id="p70g"><use href="#G126"/><text x="47" y="325.2">126</text></g><g id="p70e"><use href="#Ga"/></g></g>
<g id="p71" class="B" transform="translate(558.8,5457)"><text class="t" y="6">Generation 283</text><g id="p71a"><use href="#Bw1"/><text x="-35.5" y="52">left wheel</text></g><g id="p71b"><use href="#Bw2"/><text x="83.2" y="52">right wheel</text></g><g id="p71c"><use href="#Bo"/><text x="-102" y="194.5">9</text></g><g id="p71d"><use href="#Bd"/><text x="11.8" y="313">distance</text></g><g id="p71e"><use href="#Be"/></g></g>
<g id="p72" class="G" transform="translate(959.6,5457)"><text class="t" y="6">Generation 284</text><g id="p72a"><use href="#Gw1"/><text x="-34" y="35.5">left wheel</text></g><g id="p72b"><use href="#Gw2"/><text x="74.3" y="35.5">right wheel</text></g><g id="p72c"><use href="#G6"/><text x="-110.2" y="193.6">6</text></g><g id="p72f"><use href="#G12"/><text x="110.2" y="218">12</text></g><g id="p72d"><use href="#Gd"/><text x="-4.2" y="313.8">distance</text></g><g id="p72g"><use href="#G126"/><text x="47" y="325.2">126</text></g><g id="p72e"><use href="#Ga"/></g></g>
<g id="p73" class="B" transform="translate(1360.4,5457)"><text class="t" y="6">Generation 287</text><g id="p73a"><use href="#Bw1"/><text x="-35.5" y="52">left wheel</text></g><g id="p73b"><use href="#Bw2"/><text x="83.2" y="52">right wheel</text></g><g id="p73c"><use href="#Bo"/><text x="-102" y="194.5">9</text></g><g id="p73d"><use href="#Bd"/><text x="11.8" y="313">distance</text></g><g id="p73e"><use href="#Be"/></g></g>
<g id="p74" class="G" transform="translate(1761.2,5457)"><text class="t" y="6">Generation 288</text><g id="p74a"><use href="#Gw1"/><text x="-34" y="35.5">left wheel</text></g><g id="p74b"><use href="#Gw2"/><text x="74.3" y="35.5">right wheel</text></g><g id="p74c"><use href="#G6"/><text x="-110.2" y="193.6">6</text></g><g id="p74f"><use href="#G12"/><text x="110.2" y="218">12</text></g><g id="p74d"><use href="#Gd"/><text x="-4.2" y="313.8">distance</text></g><g id="p74g"><use href="#G126"/><text x="47" y="325.2">126</text></g><g id="p74e"><use href="#Ga"/></g></g>

<g id="p75" class="B" transform="translate(158,5845.5)"><text class="t" y="6">Generation 369</text><g id="p75a"><use href="#Bw1"/><text x="-35.5" y="52">left wheel</text></g><g id="p75b"><use href="#Bw2"/><text x="83.2" y="52">right wheel</text></g><g id="p75c"><use href="#Bo"/><text x="-102" y="194.5">9</text></g><g id="p75d"><use href="#Bd"/><text x="11.8" y="313">distance</text></g><g id="p75e"><use href="#Be"/></g></g>
<g id="p76" class="G" transform="translate(558.8,5845.5)"><text class="t" y="6">Generation 371</text><g id="p76a"><use href="#Gw1"/><text x="-34" y="35.5">left wheel</text></g><g id="p76b"><use href="#Gw2"/><text x="74.3" y="35.5">right wheel</text></g><g id="p76c"><use href="#G6"/><text x="-110.2" y="193.6">6</text></g><g id="p76f"><use href="#G12"/><text x="110.2" y="218">12</text></g><g id="p76d"><use href="#Gd"/><text x="-4.2" y="313.8">distance</text></g><g id="p76g"><use href="#G126"/><text x="47" y="325.2">126</text></g><g id="p76e"><use href="#Ga"/></g></g>
<g id="p77" class="B" transform="translate(959.6,5845.5)"><text class="t" y="6">Generation 372</text><g id="p77a"><use href="#Bw1"/><text x="-35.5" y="52">left wheel</text></g><g id="p77b"><use href="#Bw2"/><text x="83.2" y="52">right wheel</text></g><g id="p77c"><use href="#Bo"/><text x="-102" y="194.5">9</text></g><g id="p77d"><use href="#Bd"/><text x="11.8" y="313">distance</text></g><g id="p77e"><use href="#Be"/></g></g>
<g id="p78" class="G" transform="translate(1360.4,5845.5)"><text class="t" y="6">Generation 373</text><g id="p78a"><use href="#Gw1"/><text x="-34" y="35.5">left wheel</text></g><g id="p78b"><use href="#Gw2"/><text x="74.3" y="35.5">right wheel</text></g><g id="p78c"><use href="#G6"/><text x="-110.2" y="193.6">6</text></g><g id="p78f"><use href="#G12"/><text x="110.2" y="218">12</text></g><g id="p78d"><use href="#Gd"/><text x="-4.2" y="313.8">distance</text></g><g id="p78g"><use href="#G126"/><text x="47" y="325.2">126</text></g><g id="p78e"><use href="#Ga"/></g></g>
<g id="p79" class="B" transform="translate(1761.2,5845.5)"><text class="t" y="6">Generation 377</text><g id="p79a"><use href="#Bw1"/><text x="-35.5" y="52">left wheel</text></g><g id="p79b"><use href="#Bw2"/><text x="83.2" y="52">right wheel</text></g><g id="p79c"><use href="#Bo"/><text x="-102" y="194.5">9</text></g><g id="p79d"><use href="#Bd"/><text x="11.8" y="313">distance</text></g><g id="p79e"><use href="#Be"/></g></g>

<g id="p80" class="G" transform="translate(158,6234)"><text class="t" y="6">Generation 378</text><g id="p80a"><use href="#Gw1"/><text x="-34" y="35.5">left wheel</text></g><g id="p80b"><use href="#Gw2"/><text x="74.3" y="35.5">right wheel</text></g><g id="p80c"><use href="#G6"/><text x="-110.2" y="193.6">6</text></g><g id="p80f"><use href="#G12"/><text x="110.2" y="218">12</text></g><g id="p80d"><use href="#Gd"/><text x="-4.2" y="313.8">distance</text></g><g id="p80g"><use href="#G126"/><text x="47" y="325.2">126</text></g><g id="p80e"><use href="#Ga"/></g></g>
<g id="p81" class="B" transform="translate(558.8,6234)"><text class="t" y="6">Generation 384</text><g id="p81a"><use href="#Bw1"/><text x="-35.5" y="52">left wheel</text></g><g id="p81b"><use href="#Bw2"/><text x="83.2" y="52">right wheel</text></g><g id="p81c"><use href="#Bo"/><text x="-102" y="194.5">9</text></g><g id="p81d"><use href="#Bd"/><text x="11.8" y="313">distance</text></g><g id="p81e"><use href="#Be"/></g></g>
<g id="p82" class="G" transform="translate(959.6,6234)"><text class="t" y="6">Generation 385</text><g id="p82a"><use href="#Gw1"/><text x="-34" y="35.5">left wheel</text></g><g id="p82b"><use href="#Gw2"/><text x="74.3" y="35.5">right wheel</text></g><g id="p82c"><use href="#G6"/><text x="-110.2" y="193.6">6</text></g><g id="p82f"><use href="#G12"/><text x="110.2" y="218">12</text></g><g id="p82d"><use href="#Gd"/><text x="-4.2" y="313.8">distance</text></g><g id="p82g"><use href="#G126"/><text x="47" y="325.2">126</text></g><g id="p82e"><use href="#Ga"/></g></g>
<g id="p83" class="B" transform="translate(1360.4,6234)"><text class="t" y="6">Generation 389</text><g id="p83a"><use href="#Bw1"/><text x="-35.5" y="52">left wheel</text></g><g id="p83b"><use href="#Bw2"/><text x="83.2" y="52">right wheel</text></g><g id="p83c"><use href="#Bo"/><text x="-102" y="194.5">9</text></g><g id="p83d"><use href="#Bd"/><text x="11.8" y="313">distance</text></g><g id="p83e"><use href="#Be"/></g></g>
<g id="p84" class="G" transform="translate(1761.2,6234)"><text class="t" y="6">Generation 390</text><g id="p84a"><use href="#Gw1"/><text x="-34" y="35.5">left wheel</text></g><g id="p84b"><use href="#Gw2"/><text x="74.3" y="35.5">right wheel</text></g><g id="p84c"><use href="#G6"/><text x="-110.2" y="193.6">6</text></g><g id="p84f"><use href="#G12"/><text x="110.2" y="218">12</text></g><g id="p84d"><use href="#Gd"/><text x="-4.2" y="313.8">distance</text></g><g id="p84g"><use href="#G126"/><text x="47" y="325.2">126</text></g><g id="p84e"><use href="#Ga"/></g></g>

<g id="p85" class="G" transform="translate(158,6622.5)"><text class="t" y="6">Generation 499</text><g id="p85a"><use href="#Gw1"/><text x="-34" y="35.5">left wheel</text></g><g id="p85b"><use href="#Gw2"/><text x="74.3" y="35.5">right wheel</text></g><g id="p85c"><use href="#G6"/><text x="-110.2" y="193.6">6</text></g><g id="p85f"><use href="#G12"/><text x="110.2" y="218">12</text></g><g id="p85d"><use href="#Gd"/><text x="-4.2" y="313.8">distance</text></g><g id="p85g"><use href="#G126"/><text x="47" y="325.2">126</text></g><g id="p85e"><path class="gr" stroke-width="2.3" d="M-94,176.5L47.9,54.9" marker-end="url(#g3)"/><path class="gr" stroke-width="2" d="M-89.2,193L73.6,211.4" marker-end="url(#g3)"/><path class="rd" stroke-width="1.3" d="M98.3,201L-18.1,53.7" marker-end="url(#r2)"/><path class="rd" stroke-width="1.7" d="M108,201L78.9,56.1" marker-end="url(#r2)"/><path class="rd" stroke-width="2.3" d="M42.5,307.2L-26.7,58.9" marker-end="url(#r3)"/><path class="rd" stroke-width="2" d="M31,307.2L-81.2,214.2" marker-end="url(#r3)"/><path class="rd" stroke-width="3.5" d="M101.5,229.2L64.5,293.6" marker-end="url(#r3)"/><path class="gr" stroke-width="1" d="M12,316L13.8,316" marker-end="url(#g3)"/></g></g>
</g>
</svg>
